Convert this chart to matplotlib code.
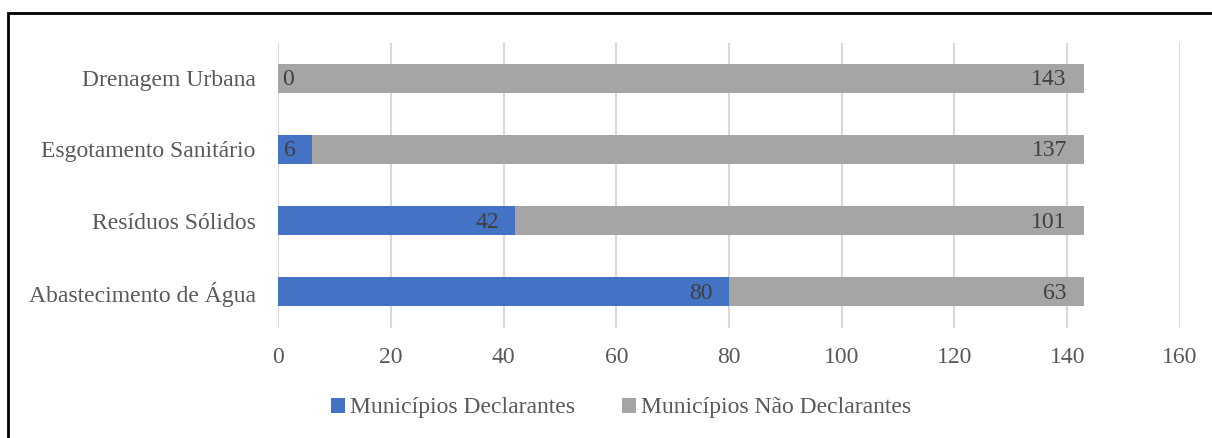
import matplotlib
matplotlib.use("Agg")
from matplotlib import pyplot as plt
from matplotlib.patches import Rectangle

categorias = ["Abastecimento de Água", "Resíduos Sólidos", "Esgotamento Sanitário", "Drenagem Urbana"]
declarantes = [80, 42, 6, 0]
nao_declarantes = [63, 101, 137, 143]
series_nomes = ["Municípios Declarantes", "Municípios Não Declarantes"]

plt.rcParams['font.family'] = ['Liberation Serif', 'DejaVu Serif']
cor_texto = '#595959'
azul = '#4472C4'
cinza = '#A5A5A5'

fig = plt.figure(figsize=(12.12, 4.38), dpi=100)
ax = fig.add_axes([278/1212, 1-327.5/438, 902/1212, 285/438])

y = range(len(categorias))
b1 = ax.barh(y, declarantes, height=0.41, color=azul, label=series_nomes[0])
b2 = ax.barh(y, nao_declarantes, left=declarantes, height=0.41, color=cinza, label=series_nomes[1])

# rotulos de dados (inside end)
for i in y:
	d = declarantes[i]
	if d == 0:
		ax.annotate(str(d), (0, i), xytext=(3, -1), textcoords='offset points',
			ha='left', va='center', fontsize=17, color='#404040')
	else:
		ax.annotate(str(d), (d, i), xytext=(-11.5, -1), textcoords='offset points',
			ha='right', va='center', fontsize=17, color='#404040')
	tot = d + nao_declarantes[i]
	ax.annotate(str(nao_declarantes[i]), (tot, i), xytext=(-12.5, -1), textcoords='offset points',
		ha='right', va='center', fontsize=17, color='#404040')

ax.set_xlim(0, 160)
ax.set_ylim(-0.5, 3.5)
ax.set_xticks(range(0, 161, 20))
ax.set_yticks(list(y))
ax.set_yticklabels(categorias)
ax.grid(axis='x', color='#D9D9D9', linewidth=1.5)
ax.set_axisbelow(True)
for s in ax.spines.values():
	s.set_visible(False)
ax.tick_params(axis='both', length=0, labelsize=17, labelcolor=cor_texto)
ax.tick_params(axis='x', pad=14)
ax.tick_params(axis='y', pad=16)

fig.legend(handles=[b1, b2], loc='center', bbox_to_anchor=(621/1212, 1-408/438),
	ncol=2, frameon=False, fontsize=17, labelcolor=cor_texto,
	handlelength=0.6, handleheight=0.6, handletextpad=0.2, columnspacing=2.0)

# moldura
fig.patches.append(Rectangle((8/1212, -0.1), 1.2, 1-13/438+0.1, transform=fig.transFigure,
	fill=False, edgecolor='black', linewidth=2))

fig.savefig('out.png', dpi=100)
